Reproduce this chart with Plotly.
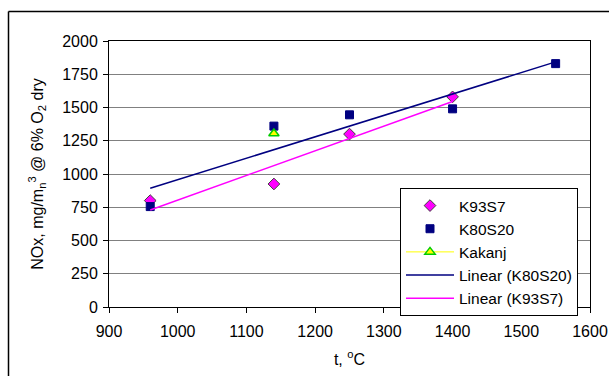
import numpy as np
import plotly.graph_objects as go

# Data
k93_x = [960, 1140, 1250, 1400]
k93_y = [800, 925, 1300, 1580]
k80_x = [960, 1140, 1250, 1400, 1550]
k80_y = [755, 1360, 1445, 1490, 1830]
kak_x = [1140]
kak_y = [1305]

# Linear trend lines (least squares fits)
s80, i80 = np.polyfit(k80_x, k80_y, 1)
s93, i93 = np.polyfit(k93_x, k93_y, 1)
t80_x = [min(k80_x), max(k80_x)]
t80_y = [s80 * x + i80 for x in t80_x]
t93_x = [min(k93_x), max(k93_x)]
t93_y = [s93 * x + i93 for x in t93_x]

FONT = "Liberation Sans, Arial, sans-serif"

fig = go.Figure()
fig.add_trace(go.Scatter(x=k93_x, y=k93_y, mode="markers", name="K93S7",
                         marker=dict(symbol="diamond", size=9, color="#ff00ff",
                                     line=dict(color="#404040", width=1))))
fig.add_trace(go.Scatter(x=k80_x, y=k80_y, mode="markers", name="K80S20",
                         marker=dict(symbol="square", size=8, color="#000080",
                                     line=dict(color="#000080", width=1))))
fig.add_trace(go.Scatter(x=kak_x, y=kak_y, mode="lines+markers", name="Kakanj",
                         line=dict(color="#ffff00", width=1),
                         marker=dict(symbol="triangle-up", size=9, color="#ffff00",
                                     line=dict(color="#00cc00", width=1.5))))
fig.add_trace(go.Scatter(x=t80_x, y=t80_y, mode="lines", name="Linear (K80S20)",
                         line=dict(color="#000080", width=1.5)))
fig.add_trace(go.Scatter(x=t93_x, y=t93_y, mode="lines", name="Linear (K93S7)",
                         line=dict(color="#ff00ff", width=1.5)))

L, R, T, B = 109, 19, 41, 69
W, H = 609, 376
pw = W - L - R
ph = H - T - B
def px(x):
    return (x - L) / pw
def py(y):
    return (H - B - y) / ph

fig.update_layout(
    width=W, height=H,
    margin=dict(l=L, r=R, t=T, b=B, pad=0, autoexpand=False),
    paper_bgcolor="white", plot_bgcolor="white",
    font=dict(family=FONT, size=16, color="black"),
    showlegend=True,
    legend=dict(x=px(400), y=py(188), xanchor="left", yanchor="top",
                bgcolor="white", bordercolor="black", borderwidth=1,
                font=dict(size=15.5), tracegroupgap=0, itemwidth=48),
    xaxis=dict(range=[900, 1600], dtick=100, tick0=900, automargin=False,
               showgrid=False, zeroline=False,
               showline=True, linecolor="black", linewidth=1, mirror=True,
               ticks="outside", ticklen=5, tickcolor="black",
               tickfont=dict(size=16), ticklabelstandoff=5,
               title=dict(text="t, <sup>o</sup>C", font=dict(size=16), standoff=14)),
    yaxis=dict(range=[0, 2000], dtick=250, tick0=0, automargin=False,
               showgrid=True, gridcolor="#808080", gridwidth=1,
               zeroline=False,
               showline=True, linecolor="black", linewidth=1, mirror=True,
               ticks="outside", ticklen=5, tickcolor="black",
               tickfont=dict(size=16), ticklabelstandoff=2,
               title=dict(text="NOx, mg/m<sub>n</sub><sup>3</sup> @ 6% O<sub>2</sub> dry",
                          font=dict(size=16), standoff=14)),
    shapes=[
        dict(type="line", xref="paper", yref="paper", x0=px(8.5), x1=px(W + 5),
             y0=py(11.5), y1=py(11.5), line=dict(color="black", width=1.5)),
        dict(type="line", xref="paper", yref="paper", x0=px(8.5), x1=px(8.5),
             y0=py(11.5), y1=py(H + 5), line=dict(color="black", width=1.5)),
    ],
)

fig.write_html("out.html")
